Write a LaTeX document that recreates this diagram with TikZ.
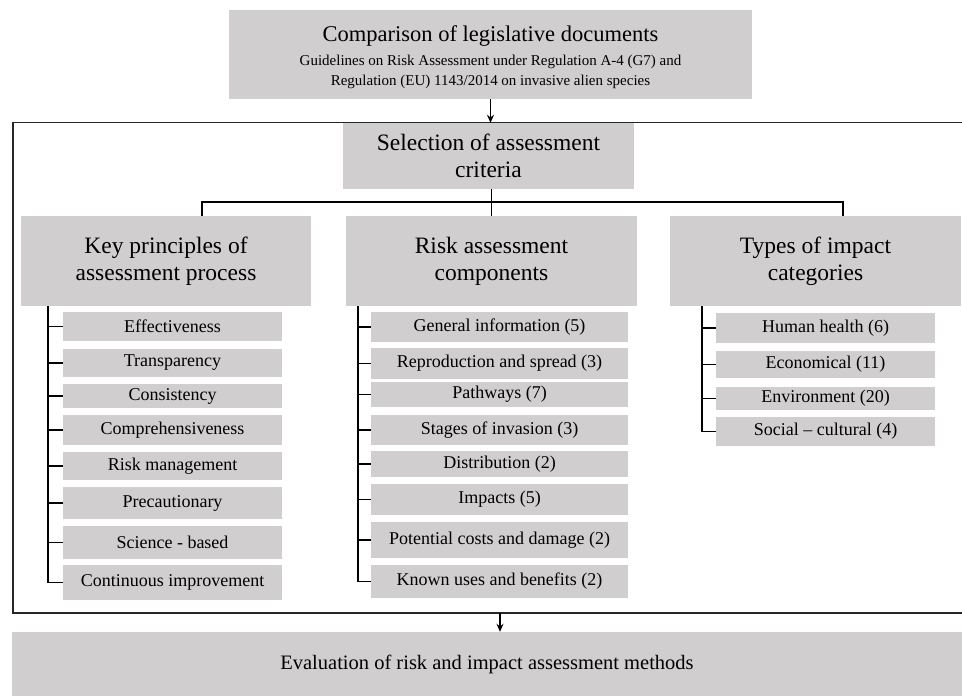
\documentclass[tikz,border=0pt]{standalone}
\usepackage{fontspec}
\setmainfont{Liberation Serif}
\usetikzlibrary{arrows.meta}
\definecolor{boxgray}{RGB}{208,206,206}
\begin{document}
\begin{tikzpicture}[x=1pt,y=-1pt,
  gbox/.style={fill=boxgray, inner sep=0pt, align=center},
  item/.style={gbox, font=\fontsize{18}{21}\selectfont},
  head/.style={gbox, font=\fontsize{23.5}{27}\selectfont, minimum width=290pt, minimum height=90pt},
  conn/.style={line width=1.6pt, black},
  frameline/.style={line width=1.5pt, black!85},
  arr/.style={conn, -{Stealth[length=8pt,width=7pt]}},
]
\useasboundingbox (0,0) rectangle (962,696);

% top box
\node[gbox, minimum width=523pt, minimum height=89pt] (top) at (490.5,54.5) {};
\node[font=\fontsize{22.5}{26}\selectfont, inner sep=0pt] (toptitle) at (490.5,36) {Comparison of legislative documents};
\node[font=\fontsize{15}{20}\selectfont, inner sep=0pt, align=center] (topsub) at (490.5,71.5) {Guidelines on Risk Assessment under Regulation A-4 (G7) and\\Regulation (EU) 1143/2014 on invasive alien species};

% frame
\draw[frameline] (963,122.5) -- (13,122.5) -- (13,613) -- (963,613);

% selection
\node[head, minimum width=291pt, minimum height=66pt] (sel) at (488.5,156) {Selection of assessment\\criteria};

% headers
\node[head] (key) at (166,261) {Key principles of\\assessment process};
\node[head, minimum width=291pt] (risk) at (491.5,261) {Risk assessment\\components};
\node[head, minimum width=291pt] (types) at (815.5,261) {Types of impact\\categories};

% bottom
\node[gbox, font=\fontsize{20.5}{25}\selectfont, minimum width=950pt, minimum height=64pt] (eval) at (487,664) {Evaluation of risk and impact assessment methods};

% arrows
\draw[arr] (top.south) -- (top.south |- sel.north);
\coordinate (fb) at (500,613);
\draw[arr] (fb) -- (eval.north -| fb);

% tree connectors
\coordinate (kl) at (202,202);
\coordinate (tl) at (843,202);
\draw[conn] (risk.north |- sel.south) -- (risk.north);
\draw[conn] (key.north -| kl) -- (kl) -- (tl) -- (types.north -| tl);

% left items
\node[item, minimum width=219pt, minimum height=29pt] (l1) at (172.5,326.5) {Effectiveness};
\node[item, minimum width=219pt, minimum height=28pt] (l2) at (172.5,363) {Transparency};
\node[item, minimum width=219pt, minimum height=24pt] (l3) at (172.5,396) {Consistency};
\node[item, minimum width=219pt, minimum height=30pt] (l4) at (172.5,430) {Comprehensiveness};
\node[item, minimum width=219pt, minimum height=28pt] (l5) at (172.5,466) {Risk management};
\node[item, minimum width=219pt, minimum height=32pt] (l6) at (172.5,503) {Precautionary};
\node[item, minimum width=219pt, minimum height=33pt] (l7) at (172.5,542.5) {Science - based};
\node[item, minimum width=219pt, minimum height=35pt] (l8) at (172.5,582.5) {Continuous improvement};

% middle items
\node[item, minimum width=257pt, minimum height=30pt] (m1) at (499.5,327) {General information (5)};
\node[item, minimum width=257pt, minimum height=31pt] (m2) at (499.5,363.5) {Reproduction and spread (3)};
\node[item, minimum width=257pt, minimum height=25pt] (m3) at (499.5,394.5) {Pathways (7)};
\node[item, minimum width=257pt, minimum height=30pt] (m4) at (499.5,430) {Stages of invasion (3)};
\node[item, minimum width=257pt, minimum height=26pt] (m5) at (499.5,464) {Distribution (2)};
\node[item, minimum width=257pt, minimum height=31pt] (m6) at (499.5,499.5) {Impacts (5)};
\node[item, minimum width=257pt, minimum height=36pt] (m7) at (499.5,540) {Potential costs and damage (2)};
\node[item, minimum width=257pt, minimum height=33pt] (m8) at (499.5,581.5) {Known uses and benefits (2)};

% right items
\node[item, minimum width=219pt, minimum height=30pt] (r1) at (825.5,328) {Human health (6)};
\node[item, minimum width=219pt, minimum height=27pt] (r2) at (825.5,364.5) {Economical (11)};
\node[item, minimum width=219pt, minimum height=23pt] (r3) at (825.5,398.5) {Environment (20)};
\node[item, minimum width=219pt, minimum height=29pt] (r4) at (825.5,431.5) {Social -- cultural (4)};

% list connectors
\coordinate (lx) at (48,0);
\coordinate (mx) at (358,0);
\coordinate (rx) at (702,0);
\draw[conn] (key.south -| lx) -- (l8.west -| lx) -- (l8.west);
\foreach \i in {1,...,7} \draw[conn] (l\i.west -| lx) -- (l\i.west);
\draw[conn] (risk.south -| mx) -- (m8.west -| mx) -- (m8.west);
\foreach \i in {1,...,7} \draw[conn] (m\i.west -| mx) -- (m\i.west);
\draw[conn] (types.south -| rx) -- (r4.west -| rx) -- (r4.west);
\foreach \i in {1,...,3} \draw[conn] (r\i.west -| rx) -- (r\i.west);
\end{tikzpicture}
\end{document}
